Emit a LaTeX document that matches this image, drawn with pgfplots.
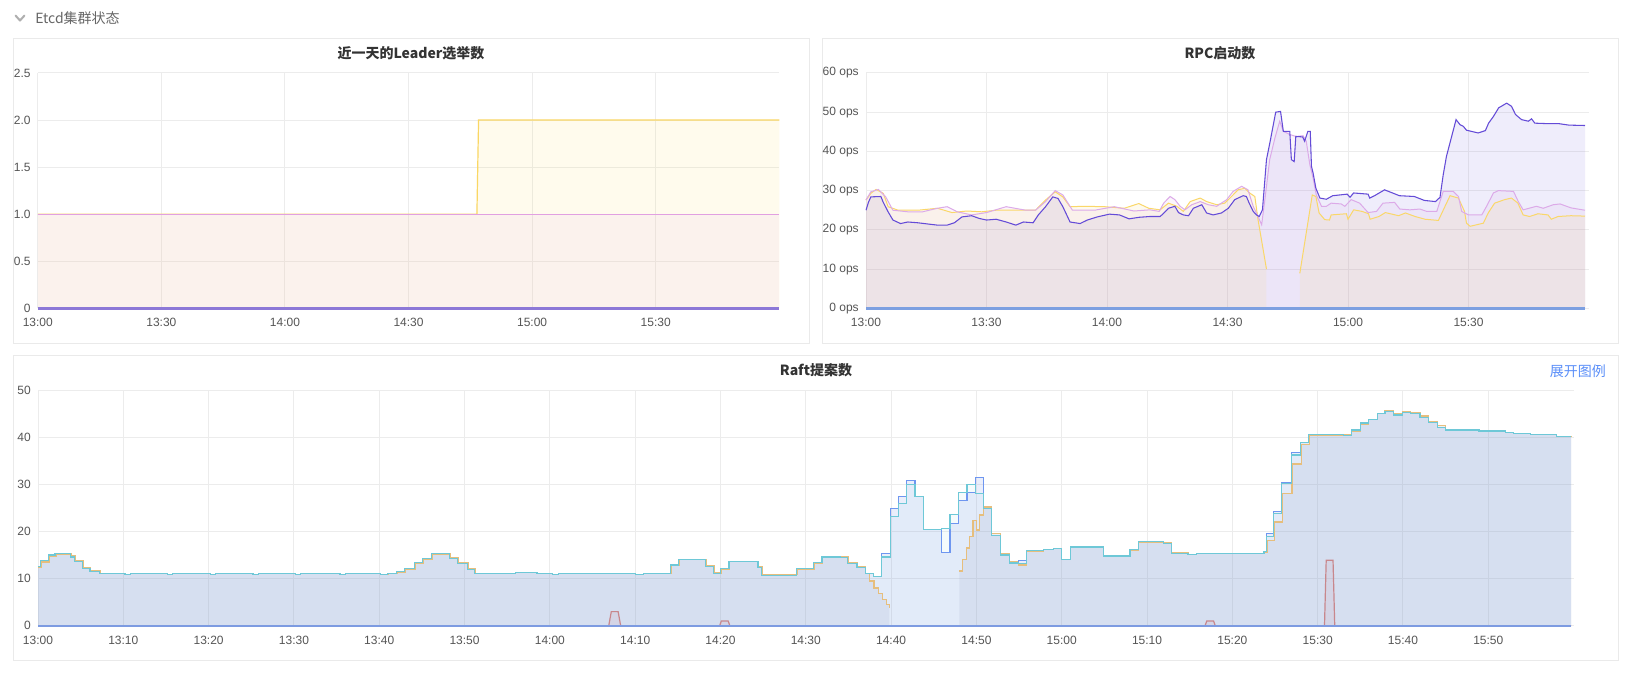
\documentclass[border=0pt]{standalone}
\usepackage{fontspec}
\setmainfont{Liberation Sans}
\newfontfamily\cjk{Noto Sans CJK SC}
\usepackage{pgfplots}
\usepackage{pgfplotstable}
\pgfplotsset{compat=1.18}

\definecolor{gridc}{RGB}{236,236,236}
\definecolor{tickc}{RGB}{85,85,85}
\definecolor{boxc}{RGB}{234,234,234}
\definecolor{titlec}{RGB}{51,51,51}
\definecolor{headc}{RGB}{102,102,102}
\definecolor{chevc}{RGB}{175,175,175}
\definecolor{linkc}{RGB}{91,143,249}
% panel 1
\definecolor{lyel}{RGB}{250,215,100}
\definecolor{lyelF}{RGB}{255,225,85}
\definecolor{lpink}{RGB}{225,160,225}
\definecolor{lpinkF}{RGB}{225,165,255}
\definecolor{lpurp}{RGB}{140,120,215}
% panel 2
\definecolor{ppurp}{RGB}{100,75,215}
\definecolor{ppurpF}{RGB}{106,80,216}
\definecolor{ppink}{RGB}{220,170,232}
\definecolor{ppinkF}{RGB}{217,160,230}
\definecolor{pyel}{RGB}{250,215,105}
\definecolor{pyelF}{RGB}{250,210,90}
\definecolor{pzero}{RGB}{125,160,225}
% panel 3
\definecolor{rteal}{RGB}{110,200,215}
\definecolor{rtealF}{RGB}{100,200,210}
\definecolor{rblue}{RGB}{110,150,240}
\definecolor{rblueF}{RGB}{90,120,230}
\definecolor{rorange}{RGB}{230,190,125}
\definecolor{rorangeF}{RGB}{150,160,190}
\definecolor{rred}{RGB}{200,135,140}
\definecolor{rredF}{RGB}{200,120,140}
\definecolor{rzero}{RGB}{125,155,225}

\pgfplotsset{
  panel/.style={
    scale only axis, clip=false,
    axis line style={draw=none},
    major tick length=0pt,
    tick style={draw=none},
    xmajorgrids, ymajorgrids,
    major grid style={draw=gridc, line width=0.75pt},
    xmin=0, xmax=180,
    ticklabel style={font=\fontsize{9}{10}\selectfont, text=tickc},
    yticklabel style={anchor=east, inner sep=0pt, xshift=-5.25pt},
    xticklabel style={anchor=north, inner sep=0pt, yshift=-7.5pt},
  },
}

% ---------------- panel 1 data
\pgfplotstableread{
x y
0 1
106.6 1
107.0 2
180 2
}\Lyel
\pgfplotstableread{
x y
0 1
180 1
}\Lpink
\pgfplotstableread{
x y
0 0
180 0
}\Lpurp

% ---------------- panel 2 data
\pgfplotstableread{
x y
0 25.0
0.6 27.0
1.2 28.4
3.7 28.5
4.3 27.0
5.5 24.6
6.7 22.5
8.6 21.6
10.4 22.0
12.9 21.8
15.3 21.5
17.8 21.2
20.2 21.2
22.0 21.8
23.9 23.3
26.3 23.6
28.2 22.9
30.0 22.5
32.4 22.7
34.9 22.0
37.3 21.2
39.2 22.0
41.6 21.8
42.9 23.8
44.7 25.9
46.5 28.4
47.8 28.0
49.0 25.9
50.8 22.0
53.3 21.6
55.1 22.5
57.6 23.3
60.6 24.0
63.1 23.8
65.5 22.8
68.0 23.2
70.7 23.4
73.2 23.4
74.0 24.1
75.3 25.5
76.9 26.0
77.8 24.4
79.0 23.8
80.3 23.6
81.5 25.5
83.6 26.4
84.8 24.3
86.4 23.8
88.5 24.3
90.2 25.5
91.8 27.7
93.9 28.7
94.7 28.5
95.4 26.8
96.4 24.7
97.2 23.8
97.9 23.4
98.7 25.1
99.7 37.9
100.7 43.0
102.0 50.0
103.2 50.2
103.9 45.1
105.5 45.1
105.9 37.9
106.6 37.4
107.0 43.8
108.7 43.7
109.2 42.6
110.0 45.1
110.6 45.1
110.9 36.2
111.3 34.5
112.0 30.6
113.0 28.1
114.6 27.8
116.2 28.7
119.8 29.1
120.5 28.3
121.4 29.4
125.0 29.1
125.4 28.1
126.6 28.7
129.1 30.2
132.8 28.7
136.5 28.5
139.0 27.5
141.8 27.2
142.9 28.3
143.7 34.0
144.5 38.7
145.8 43.8
146.9 48.1
147.9 46.8
148.7 46.4
149.5 45.4
152.4 44.7
154.2 45.3
155.0 47.2
156.2 48.9
157.5 51.1
159.5 52.3
160.7 51.5
161.7 49.4
163.2 48.1
164.9 47.7
165.7 48.3
166.5 47.2
169.0 47.1
172.3 47.1
175.0 46.7
179.0 46.6
}\Ppurp
\pgfplotstableread{
x y
0 27.6
1.2 29.7
3.1 30.3
4.9 28.4
6.7 25.0
10.4 24.6
14.1 24.6
17.8 25.5
20.2 25.9
22.7 24.6
26.3 23.8
30.0 24.4
34.9 25.9
39.8 25.0
42.2 25.0
44.7 27.2
47.1 30.0
49.0 28.9
51.4 25.0
56.9 25.0
61.8 25.9
66.7 24.8
70.7 25.1
73.0 24.7
74.1 26.8
75.7 28.5
76.9 27.7
78.2 26.0
79.4 25.1
81.1 26.4
83.2 27.2
85.2 26.4
87.3 26.0
89.8 27.7
91.4 29.8
93.5 31.1
95.1 30.2
96.4 26.0
97.6 23.4
98.5 21.3
99.3 27.7
100.5 37.9
101.8 43.4
103.0 47.7
103.9 45.1
105.5 44.3
107.1 43.8
108.8 44.0
109.6 42.6
110.5 36.6
111.3 33.2
112.1 28.9
113.4 26.0
114.6 26.0
115.8 26.8
118.3 26.6
119.2 26.0
120.8 27.7
122.9 26.8
125.0 24.4
127.1 24.7
128.7 26.8
131.6 27.0
132.9 25.3
135.4 25.1
137.9 25.3
139.6 24.7
142.1 24.7
143.7 29.8
146.2 29.8
147.5 28.5
148.3 24.7
150.0 23.8
153.3 23.8
154.5 26.0
156.2 29.4
157.4 30.0
161.2 29.8
162.4 27.2
163.6 25.1
166.9 26.0
168.6 25.5
171.1 26.4
172.8 26.6
175.5 25.6
179.0 25.0
}\Ppink
\pgfplotstableread{
x y
0 27.6
1.2 29.3
2.5 30.3
4.3 29.3
5.5 25.9
8.0 25.0
12.9 25.0
17.8 25.5
21.4 24.4
25.1 24.8
28.8 24.6
32.4 25.0
37.3 25.0
42.2 25.0
44.7 27.6
47.1 29.7
49.0 28.4
50.8 25.9
54.5 26.0
59.4 25.9
64.3 25.5
67.9 26.7
70.4 25.5
73.2 25.1
75.3 26.8
77.4 26.0
79.0 24.7
80.7 27.2
83.2 28.1
84.8 27.2
87.3 26.4
89.3 26.8
91.0 28.5
92.6 30.2
94.3 30.6
95.5 29.4
96.8 28.5
97.6 22.6
99.7 10.0
}\PyelA
\pgfplotstableread{
x y
108.0 8.9
111.1 28.9
112.0 28.5
112.8 24.3
114.2 22.6
115.4 22.5
115.8 23.8
119.6 24.1
120.0 22.7
121.4 25.1
123.5 24.7
125.1 24.1
125.5 22.7
127.7 23.4
129.3 24.4
132.6 23.6
134.3 24.3
136.7 23.4
139.2 22.7
142.5 22.4
144.2 26.1
145.4 28.7
147.5 28.1
149.0 24.7
149.5 21.7
150.4 20.9
153.7 21.7
154.9 24.3
156.5 26.8
159.0 27.7
160.7 28.1
162.3 26.8
163.6 23.8
165.2 23.4
167.3 24.1
169.8 23.8
170.6 22.7
172.3 23.4
175.5 23.6
179.0 23.5
}\PyelB
\pgfplotstableread{
x y
0 0
179 0
}\Pzero

% ---------------- panel 3 data
\pgfplotstableread{
x y
0 12.5
0.3 13.8
1.2 15.0
2.0 15.3
3.8 14.6
4.3 13.6
5.2 12.2
6.1 11.5
7.2 11.0
10.2 10.8
10.8 11.0
15.2 10.8
15.8 11.0
20.2 10.8
20.8 11.0
25.2 10.8
25.8 11.0
30.2 10.8
30.8 11.0
35.4 10.8
36.0 11.0
40.1 10.8
41.0 11.1
42.0 11.5
43.0 12.2
44.1 13.4
45.1 14.3
46.1 15.3
48.2 14.3
49.2 13.2
50.3 12.0
51.2 11.0
56.0 11.3
58.5 11.0
60.3 10.8
61.0 11.0
70.0 10.8
71.0 11.0
73.0 11.1
74.1 12.9
75.1 14.1
78.2 12.5
79.2 11.0
80.0 12.2
81.0 13.7
84.4 12.4
84.8 10.7
88.9 12.1
90.9 13.4
91.9 14.6
94.0 14.4
94.9 13.2
96.0 12.3
97.0 11.1
97.9 10.5
98.9 14.6
99.9 23.1
100.9 26.0
101.8 30.0
102.8 27.4
103.8 20.4
105.9 20.6
106.9 23.6
107.9 28.2
108.9 29.9
109.9 28.1
110.8 24.9
111.8 19.2
112.8 15.0
113.9 13.3
114.9 13.2
115.9 15.9
117.9 16.2
119.0 16.4
120.0 14.0
121.0 16.7
124.9 14.8
128.0 16.2
129.0 17.8
131.9 17.4
132.9 15.3
134.8 15.1
135.8 15.3
140.0 15.4
143.7 15.7
144.0 18.9
144.8 23.8
145.8 30.2
146.9 36.2
148.0 38.9
148.9 40.5
153.0 40.3
154.0 41.5
155.0 43.0
156.0 43.8
157.0 45.1
157.9 45.4
158.9 44.7
159.9 45.2
160.9 45.1
162.0 44.2
163.0 43.1
164.0 42.1
165.0 41.5
168.9 41.3
172.0 41.0
173.0 40.7
174.9 40.6
176.8 40.5
178.0 40.1
179.7 40.1
}\Rteal
\pgfplotstableread{
x y
0 12.5
0.3 13.8
1.2 15.0
2.0 15.3
3.8 14.6
4.3 13.6
5.2 12.2
6.1 11.5
7.2 11.0
10.2 10.8
10.8 11.0
15.2 10.8
15.8 11.0
20.2 10.8
20.8 11.0
25.2 10.8
25.8 11.0
30.2 10.8
30.8 11.0
35.4 10.8
36.0 11.0
40.1 10.8
41.0 11.1
42.0 11.5
43.0 12.2
44.1 13.4
45.1 14.3
46.1 15.3
48.2 14.3
49.2 13.2
50.3 12.0
51.2 11.0
56.0 11.3
58.5 11.0
60.3 10.8
61.0 11.0
70.0 10.8
71.0 11.0
73.0 11.1
74.1 12.9
75.1 14.1
78.2 12.5
79.2 11.0
80.0 12.2
81.0 13.7
84.4 12.4
84.8 10.7
88.9 12.1
90.9 13.4
91.9 14.6
94.0 14.4
94.9 13.2
96.0 12.3
97.0 11.1
97.9 10.5
98.9 15.3
99.9 24.9
100.9 27.4
101.8 30.8
102.8 27.4
103.8 20.4
105.9 15.5
106.9 21.7
107.9 26.5
108.9 28.2
109.9 31.4
110.8 24.9
111.8 19.2
112.8 15.0
113.9 13.3
114.9 13.8
115.9 15.9
117.9 16.2
119.0 16.4
120.0 14.0
121.0 16.7
124.9 14.8
128.0 16.2
129.0 17.8
131.9 17.4
132.9 15.3
134.8 15.1
135.8 15.3
140.0 15.4
143.7 15.7
144.0 19.5
144.8 24.2
145.8 30.4
146.9 36.8
148.0 38.9
148.9 40.5
153.0 40.3
154.0 41.5
155.0 43.0
156.0 43.8
157.0 45.1
157.9 45.4
158.9 44.7
159.9 45.2
160.9 45.1
162.0 44.2
163.0 43.1
164.0 42.1
165.0 41.5
168.9 41.3
172.0 41.0
173.0 40.7
174.9 40.6
176.8 40.5
178.0 40.1
179.7 40.1
}\Rblue
\pgfplotstableread{
x y
0 12.3
0.4 13.5
1.3 14.8
2.1 15.2
3.9 14.8
4.4 13.8
5.3 12.4
6.2 11.6
7.3 11.0
10.2 10.8
10.8 11.0
15.2 10.8
15.8 11.0
20.2 10.8
20.8 11.0
25.2 10.8
25.8 11.0
30.2 10.8
30.8 11.0
35.4 10.8
36.0 11.0
40.1 10.8
41.1 11.0
42.1 11.3
43.1 12.0
44.2 13.2
45.2 14.1
46.2 15.2
48.3 14.5
49.3 13.4
50.4 12.2
51.3 11.0
56.0 11.3
58.5 11.0
60.3 10.8
61.0 11.0
70.0 10.8
71.0 11.0
73.1 11.0
74.2 12.7
75.2 14.0
78.3 12.7
79.3 11.2
80.1 12.0
81.1 13.6
84.5 12.5
84.9 10.9
89.0 11.9
91.0 13.2
92.0 14.5
94.1 14.6
95.0 13.4
96.1 12.5
97.0 11.1
97.5 9.5
98.0 8.0
98.5 6.8
99.0 5.5
99.5 4.5
99.8 3.8
}\RorA
\pgfplotstableread{
x y
108.0 11.6
108.4 14.0
108.8 16.5
109.2 19.0
109.6 22.4
110.0 20.3
110.4 23.5
110.8 25.2
111.8 19.6
112.8 15.4
113.9 13.6
114.9 12.9
115.9 15.7
117.9 16.2
119.0 16.3
120.0 14.0
121.0 16.6
124.9 14.7
128.0 16.0
129.0 17.6
131.9 17.6
132.9 15.5
134.8 15.1
135.8 15.3
140.0 15.4
143.7 15.6
144.1 18.0
144.9 22.0
145.9 28.1
147.0 34.3
148.1 38.5
149.0 40.4
153.0 40.5
154.0 41.3
155.0 42.8
156.0 43.8
157.0 45.0
157.9 45.6
158.9 44.9
159.9 45.4
160.9 45.2
162.0 44.5
163.0 43.4
164.0 42.4
165.0 41.6
168.9 41.2
172.0 41.0
173.0 40.8
174.9 40.5
176.8 40.6
178.0 40.2
179.7 40.1
}\RorB
\pgfplotstableread{
x y
0 0
66.9 0
67.2 3
68.0 3
68.3 0
79.9 0
80.1 1
80.9 1
81.1 0
136.8 0
137.0 1
137.8 1
138.0 0
150.8 0
151.0 13.9
151.8 13.9
152.0 0
179.7 0
}\Rred
\pgfplotstableread{
x y
0 0
179.7 0
}\Rzero

\begin{document}
\begin{tikzpicture}
% ---------- frame in pixel units
\begin{scope}[x=0.75pt,y=-0.75pt]
  \path[use as bounding box] (0,0) rectangle (1631,676);
  \fill[white] (0,0) rectangle (1631,676);
  \draw[chevc, line width=1.5pt, line cap=round, line join=round] (15.5,15.5) -- (20,20.5) -- (24.5,15.5);
  \node[anchor=west, inner sep=0pt, text=headc, font=\cjk\fontsize{10.5}{12}\selectfont] at (35,18.5) {Etcd集群状态};
  \draw[boxc, line width=0.75pt] (13,38.5) rectangle (809,343);
  \draw[boxc, line width=0.75pt] (822.5,38.5) rectangle (1618,343);
  \draw[boxc, line width=0.75pt] (13,355) rectangle (1618,660);
  \node[inner sep=0pt, text=titlec, font=\cjk\bfseries\fontsize{10.5}{12}\selectfont] at (411,53.3) {近一天的Leader选举数};
  \node[inner sep=0pt, text=titlec, font=\cjk\bfseries\fontsize{10.5}{12}\selectfont] at (1220,53.3) {RPC启动数};
  \node[inner sep=0pt, text=titlec, font=\cjk\bfseries\fontsize{10.5}{12}\selectfont] at (816,370.5) {Raft提案数};
  \node[anchor=east, inner sep=0pt, text=linkc, font=\cjk\fontsize{10.5}{12}\selectfont] at (1606,371.5) {展开图例};
\end{scope}

% ---------- panel 1
\begin{axis}[panel,
  at={(28.35pt,-231.2pt)}, anchor=south west,
  width=556.1pt, height=176.5pt,
  ymin=0, ymax=2.5,
  ytick={0,0.5,1,1.5,2,2.5}, yticklabels={0,0.5,1.0,1.5,2.0,2.5},
  xtick={0,30,60,90,120,150}, xticklabels={13:00,13:30,14:00,14:30,15:00,15:30},
]
\addplot[draw=none, fill=lpinkF, fill opacity=0.1] table {\Lpink} \closedcycle;
\addplot[draw=none, fill=lyelF, fill opacity=0.1] table {\Lyel} \closedcycle;
\addplot[lyel, line width=0.9pt] table {\Lyel};
\addplot[lpink, line width=0.9pt] table {\Lpink};
\addplot[lpurp, line width=2pt] table {\Lpurp};
\end{axis}

% ---------- panel 2
\begin{axis}[panel,
  at={(649.5pt,-231.2pt)}, anchor=south west,
  width=542.25pt, height=176.5pt,
  ymin=0, ymax=60,
  ytick={0,10,20,30,40,50,60}, yticklabels={0 ops,10 ops,20 ops,30 ops,40 ops,50 ops,60 ops},
  xtick={0,30,60,90,120,150}, xticklabels={13:00,13:30,14:00,14:30,15:00,15:30},
]
\addplot[draw=none, fill=ppurpF, fill opacity=0.1] table {\Ppurp} \closedcycle;
\addplot[draw=none, fill=ppinkF, fill opacity=0.1] table {\Ppink} \closedcycle;
\addplot[draw=none, fill=pyelF, fill opacity=0.1] table {\PyelA} \closedcycle;
\addplot[draw=none, fill=pyelF, fill opacity=0.1] table {\PyelB} \closedcycle;
\addplot[pyel, line width=0.75pt] table {\PyelA};
\addplot[pyel, line width=0.75pt] table {\PyelB};
\addplot[ppink, line width=0.75pt] table {\Ppink};
\addplot[ppurp, line width=0.8pt] table {\Ppurp};
\addplot[pzero, line width=2pt] table {\Pzero};
\end{axis}

% ---------- panel 3
\begin{axis}[panel,
  at={(28.5pt,-469.3pt)}, anchor=south west,
  width=1151.7pt, height=176.8pt,
  ymin=0, ymax=50,
  ytick={0,10,20,30,40,50}, yticklabels={0,10,20,30,40,50},
  xtick={0,10,20,30,40,50,60,70,80,90,100,110,120,130,140,150,160,170},
  xticklabels={13:00,13:10,13:20,13:30,13:40,13:50,14:00,14:10,14:20,14:30,14:40,14:50,15:00,15:10,15:20,15:30,15:40,15:50},
]
\addplot[const plot, draw=none, fill=rtealF, fill opacity=0.06] table {\Rteal} \closedcycle;
\addplot[const plot, draw=none, fill=rblueF, fill opacity=0.12] table {\Rblue} \closedcycle;
\addplot[const plot, draw=none, fill=rorangeF, fill opacity=0.15] table {\RorA} \closedcycle;
\addplot[const plot, draw=none, fill=rorangeF, fill opacity=0.15] table {\RorB} \closedcycle;
\addplot[draw=none, fill=rredF, fill opacity=0.1] table {\Rred} \closedcycle;
\addplot[const plot, rorange, line width=0.9pt] table {\RorA};
\addplot[const plot, rorange, line width=0.9pt] table {\RorB};
\addplot[const plot, rblue, line width=0.9pt] table {\Rblue};
\addplot[const plot, rteal, line width=0.9pt] table {\Rteal};
\addplot[rred, line width=0.9pt] table {\Rred};
\addplot[rzero, line width=1.8pt] table {\Rzero};
\end{axis}
\end{tikzpicture}
\end{document}
